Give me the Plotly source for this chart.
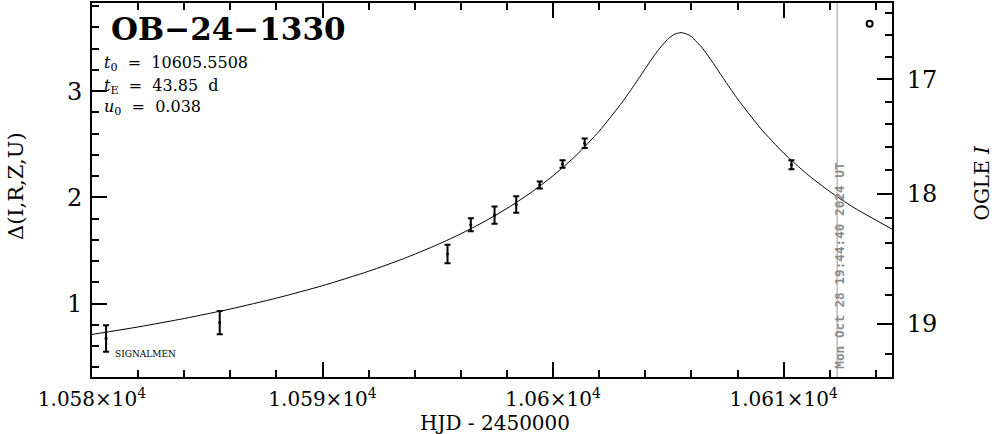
import math
import plotly.graph_objects as go

# ---------------- data ----------------
# Observed points (HJD-2450000, Delta mag, error)
obs_t = [10580.61, 10585.54, 10595.42, 10596.43, 10597.46, 10598.40,
         10599.42, 10600.41, 10601.37, 10610.34]
obs_d = [0.672, 0.822, 1.468, 1.743, 1.833, 1.934,
         2.117, 2.314, 2.510, 2.307]
obs_e = [0.125, 0.109, 0.087, 0.062, 0.081, 0.078,
         0.033, 0.035, 0.044, 0.042]

# Model curve (PSPL, t0=10605.5508, tE=43.85 d, u0=0.038), sampled values
curve_t = [10580, 10582, 10584, 10586, 10588, 10590, 10592, 10593.5, 10595,
           10596, 10597, 10598, 10599, 10600, 10601, 10602, 10603, 10603.5,
           10604, 10604.5, 10605, 10605.25, 10605.55, 10605.85, 10606,
           10606.5, 10607, 10607.5, 10608, 10609, 10610, 10611, 10612,
           10613, 10614.7]
curve_d = [0.7106, 0.7812, 0.8605, 0.9501, 1.0522, 1.1693, 1.3053, 1.4228,
           1.5570, 1.6582, 1.7705, 1.8967, 2.0397, 2.2042, 2.3962, 2.6243,
           2.8972, 3.0514, 3.2129, 3.3695, 3.4949, 3.5338, 3.5511, 3.5338,
           3.5131, 3.3988, 3.2458, 3.0840, 2.9277, 2.6499, 2.4178, 2.2224,
           2.0554, 1.9104, 1.7018]

# OGLE symbol in the top-right corner
ogle_sym_t = [10613.73]
ogle_sym_d = [3.634]

# tick labels
x_major = [10580, 10590, 10600, 10610]
x_labels = ["1.058×10<sup>4</sup>", "1.059×10<sup>4</sup>",
            "1.06×10<sup>4</sup>", "1.061×10<sup>4</sup>"]
ogle_major = [17, 18, 19]
ogle_minor = [16.4, 16.6, 16.8, 17.2, 17.4, 17.6, 17.8, 18.2, 18.4, 18.6,
              18.8, 19.2]

date_hjd = 10612.32
date_text = "Mon Oct 28 19:44:40 2024 UT"

# baseline magnitude and source flux fraction relating OGLE I to Delta
I0 = 19.524
fs = 0.5565


def mag_to_delta(m):
    F = 10 ** (-0.4 * (m - I0))
    A = (F - 1.0) / fs + 1.0
    return 2.5 * math.log10(A)


X_RANGE = [10580, 10614.7]
Y_RANGE = [0.310, 3.830]

FONT = "DejaVu Serif"

fig = go.Figure()

fig.add_trace(go.Scatter(
    x=curve_t, y=curve_d, mode="lines",
    line=dict(color="black", width=1, shape="spline", smoothing=0.6),
    hoverinfo="skip", showlegend=False))

fig.add_trace(go.Scatter(
    x=obs_t, y=obs_d, mode="markers",
    marker=dict(color="black", size=3),
    error_y=dict(type="data", array=obs_e, visible=True,
                 thickness=2, width=3, color="black"),
    showlegend=False))

fig.add_trace(go.Scatter(
    x=ogle_sym_t, y=ogle_sym_d, mode="markers",
    marker=dict(symbol="circle-open", size=6, color="black",
                line=dict(width=2, color="black")),
    showlegend=False))

# invisible trace to activate the right axis
fig.add_trace(go.Scatter(x=[X_RANGE[0]], y=[Y_RANGE[0]], yaxis="y2",
                         mode="markers", marker=dict(opacity=0),
                         hoverinfo="skip", showlegend=False))

fig.add_shape(type="line", xref="x", yref="paper",
              x0=date_hjd, x1=date_hjd, y0=0, y1=1,
              line=dict(color="#9a9a9a", width=1))

fig.update_layout(
    width=995, height=434,
    margin=dict(l=92, r=103, t=1, b=57),
    paper_bgcolor="white", plot_bgcolor="white",
    font=dict(family=FONT, color="black"),
    xaxis=dict(
        range=X_RANGE, showgrid=False, zeroline=False,
        showline=True, linecolor="black", linewidth=2, mirror="ticks",
        ticks="inside", ticklen=15, tickwidth=2, tickcolor="black",
        tickmode="array", tickvals=x_major, ticktext=x_labels,
        tickfont=dict(family=FONT, size=20),
        minor=dict(dtick=2, tick0=10580, ticks="inside", ticklen=7,
                   tickwidth=2, tickcolor="black", showgrid=False),
        ticklabelstandoff=3,
    ),
    yaxis=dict(
        range=Y_RANGE, showgrid=False, zeroline=False,
        showline=True, linecolor="black", linewidth=2, mirror=True,
        ticks="inside", ticklen=15, tickwidth=2, tickcolor="black",
        tickmode="linear", tick0=0, dtick=1,
        tickfont=dict(family=FONT, size=24),
        minor=dict(dtick=0.2, tick0=0, ticks="inside", ticklen=7,
                   tickwidth=2, tickcolor="black", showgrid=False),
        ticklabelstandoff=3,
    ),
    yaxis2=dict(
        range=Y_RANGE, overlaying="y", side="right", showgrid=False,
        zeroline=False, showline=True, linecolor="black", linewidth=2,
        ticks="inside", ticklen=15, tickwidth=2, tickcolor="black",
        tickmode="array",
        tickvals=[mag_to_delta(m) for m in ogle_major],
        ticktext=[str(m) for m in ogle_major],
        tickfont=dict(family=FONT, size=24),
        minor=dict(tickmode="array",
                   tickvals=[mag_to_delta(m) for m in ogle_minor],
                   ticks="inside", ticklen=7, tickwidth=2,
                   tickcolor="black", showgrid=False),
        ticklabelstandoff=8,
    ),
)

annotations = [
    dict(text="OB−24−1330", xref="x", yref="y", x=10580.75, y=3.587,
         xanchor="left", yanchor="middle", showarrow=False,
         font=dict(family=FONT, size=31, color="black", weight="bold")),
    dict(text="<i>t</i><sub>0</sub>&nbsp; =&nbsp; 10605.5508", xref="x",
         yref="y", x=10580.45, y=3.26, xanchor="left", yanchor="middle",
         showarrow=False, font=dict(family=FONT, size=16)),
    dict(text="<i>t</i><sub>E</sub>&nbsp; =&nbsp; 43.85&nbsp; d", xref="x",
         yref="y", x=10580.45, y=3.045, xanchor="left", yanchor="middle",
         showarrow=False, font=dict(family=FONT, size=16)),
    dict(text="<i>u</i><sub>0</sub>&nbsp; =&nbsp; 0.038", xref="x",
         yref="y", x=10580.45, y=2.85, xanchor="left", yanchor="middle",
         showarrow=False, font=dict(family=FONT, size=16)),
    dict(text="SIGNALMEN", xref="x", yref="y", x=10580.93, y=0.525,
         xanchor="left", yanchor="middle", showarrow=False,
         font=dict(family=FONT, size=9)),
    dict(text=date_text, xref="x", yref="y", x=date_hjd, xshift=2, y=1.359,
         xanchor="center", yanchor="middle", textangle=-90, showarrow=False,
         font=dict(family="DejaVu Sans Mono", size=12.7, color="#8c8c8c",
                   weight="bold")),
    dict(text="HJD - 2450000", xref="paper", yref="paper", x=0.504,
         y=-0.1237, xanchor="center", yanchor="middle", showarrow=False,
         font=dict(family=FONT, size=20)),
    dict(text="Δ(I,R,Z,U)", xref="paper", yref="paper", x=-0.095, y=0.5106,
         xanchor="center", yanchor="middle", textangle=-90, showarrow=False,
         font=dict(family=FONT, size=21)),
    dict(text="OGLE <i>I</i>", xref="paper", yref="paper", x=1.1125, y=0.52,
         xanchor="center", yanchor="middle", textangle=-90, showarrow=False,
         font=dict(family=FONT, size=20)),
]
fig.update_layout(annotations=annotations)

fig.write_html("out.html",
               config={"displayModeBar": False},
               post_script="document.body.style.margin='0';"
                           "document.body.style.padding='0';")
